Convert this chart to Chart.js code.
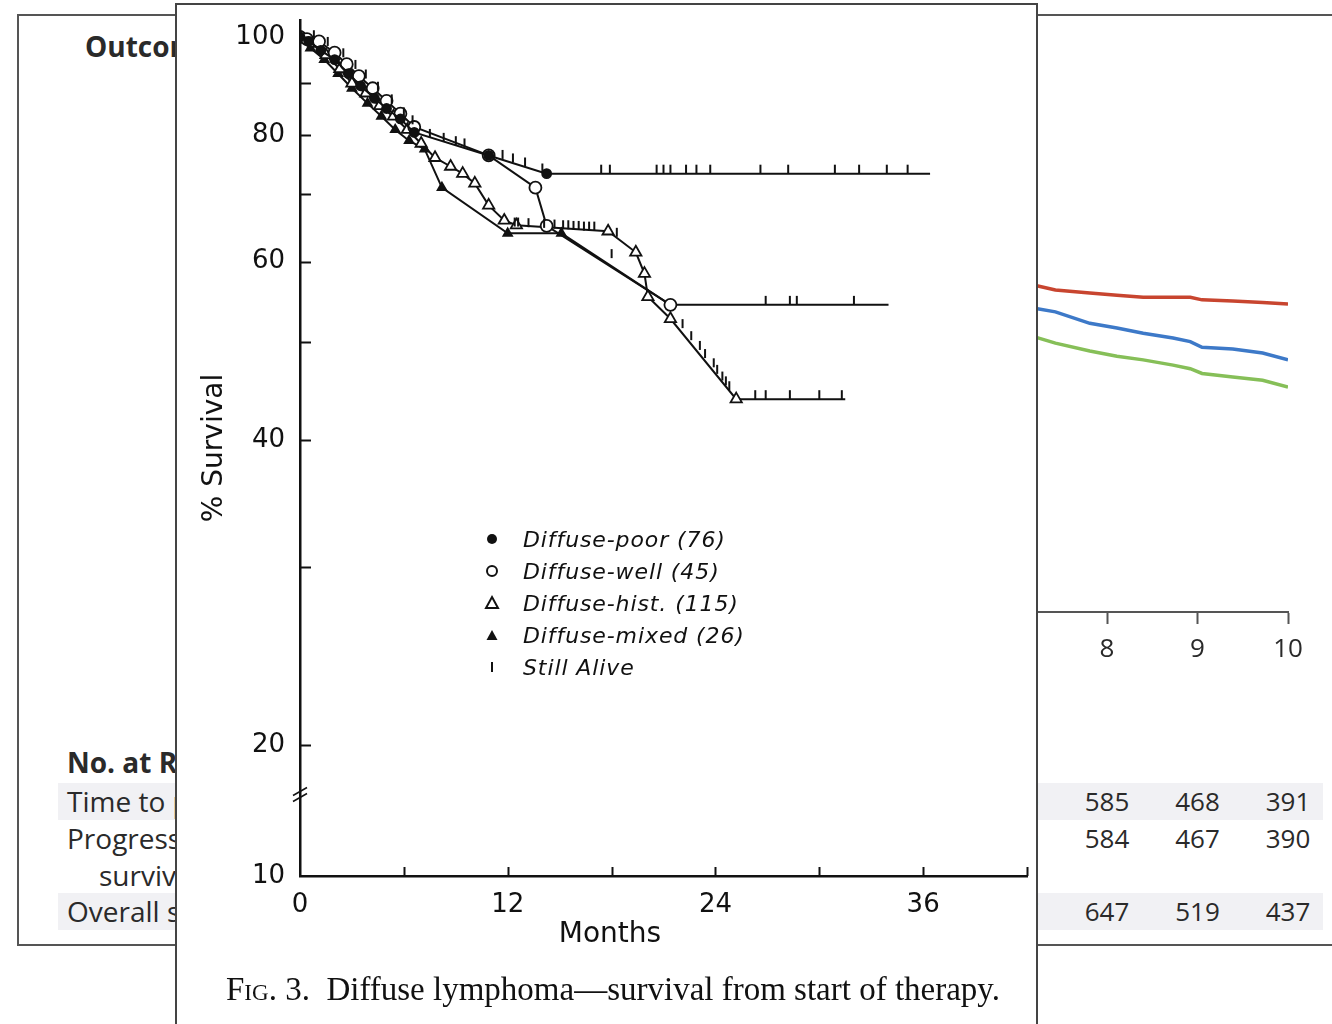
<!DOCTYPE html>
<html><head><meta charset="utf-8">
<script src="https://cdn.jsdelivr.net/npm/chart.js@4.4.1/dist/chart.umd.min.js"></script>
<style>
html,body{margin:0;padding:0;width:1332px;height:1024px;overflow:hidden;background:#fff;}
#frame{position:absolute;left:17px;top:14px;width:1340px;height:932px;border:2px solid #555;box-sizing:border-box;}
#bg{position:absolute;left:17px;top:15px;}
.bgtxt{position:absolute;font-family:"Open Sans",sans-serif;color:#2a2a2a;font-size:28px;white-space:nowrap;line-height:37px;}
.bold{font-weight:bold;}
.band{position:absolute;left:58px;width:1265px;height:37px;background:#f1f1f4;}
.num{position:absolute;font-family:"Open Sans",sans-serif;color:#2a2a2a;font-size:26px;line-height:37px;width:80px;text-align:center;}
#panel{position:absolute;left:175px;top:3px;width:863px;height:1040px;background:#fff;border:2px solid #444;box-sizing:border-box;}
#fg{position:absolute;left:176px;top:3px;}
#legend{position:absolute;left:482px;top:524px;font-family:"DejaVu Sans",sans-serif;font-style:italic;font-size:22px;letter-spacing:0.9px;color:#111;}
#legend .row{height:32px;line-height:32px;white-space:nowrap;}
#legend svg{display:inline-block;width:20px;height:20px;vertical-align:middle;margin-right:21px;margin-top:-4px;}
#months{position:absolute;left:510px;width:200px;top:914px;text-align:center;font-family:"DejaVu Sans",sans-serif;font-size:28px;line-height:38px;color:#111;}
#caption{position:absolute;left:226px;top:970px;font-family:"Liberation Serif",serif;font-size:33px;line-height:38px;color:#111;white-space:nowrap;}
</style></head>
<body>
<div id="frame"></div>
<div class="band" style="top:783px"></div>
<div class="band" style="top:893px"></div>
<div class="bgtxt bold" style="left:85px;top:28px">Outcomes</div>
<div class="bgtxt bold" style="left:67px;top:744px">No. at Risk</div>
<div class="bgtxt" style="left:67px;top:783px">Time to progression</div>
<div class="bgtxt" style="left:67px;top:820px">Progression-free</div>
<div class="bgtxt" style="left:99px;top:857px">survival</div>
<div class="bgtxt" style="left:67px;top:893px">Overall survival</div>
<div id="risk"></div>
<canvas id="bg" width="1315" height="930"></canvas>

<div id="panel"></div>
<canvas id="fg" width="861" height="1021"></canvas>
<div id="legend">
  <div class="row"><svg viewBox="0 0 20 20"><circle cx="10" cy="10" r="5" fill="#111"/></svg>Diffuse-poor (76)</div>
  <div class="row"><svg viewBox="0 0 20 20"><circle cx="10" cy="10" r="5" fill="#fff" stroke="#111" stroke-width="2"/></svg>Diffuse-well (45)</div>
  <div class="row"><svg viewBox="0 0 20 20"><polygon points="10,4 16,15 4,15" fill="#fff" stroke="#111" stroke-width="2"/></svg>Diffuse-hist. (115)</div>
  <div class="row"><svg viewBox="0 0 20 20"><polygon points="10,5 15.5,15 4.5,15" fill="#111"/></svg>Diffuse-mixed (26)</div>
  <div class="row"><svg viewBox="0 0 20 20"><rect x="9" y="5" width="2" height="10" fill="#111"/></svg>Still Alive</div>
</div>
<div id="months">Months</div>
<div id="caption"><span style="font-variant:small-caps">Fig</span>. 3.&nbsp; Diffuse lymphoma—survival from start of therapy.</div>

<script>
// ---------- Foreground figure data (months, % survival) ----------
const poorX  = [0, 0.5, 1.2, 2.0, 2.8, 3.5, 4.3, 5.0, 5.8, 6.6, 10.9, 14.25, 36.4];
const poorY  = [100, 99, 97, 95, 92, 89.5, 87, 85, 83, 80.5, 76.4, 73.3, 73.3];
const wellX  = [0, 0.4, 1.1, 2.0, 2.7, 3.4, 4.2, 5.0, 5.8, 6.6, 10.9, 13.6, 14.25, 21.4, 34.0];
const wellY  = [100, 99.5, 99, 96.5, 94, 91.5, 89, 86.5, 84, 81.5, 76.4, 71.0, 65.1, 54.4, 54.4];
const histX  = [0, 0.8, 1.5, 2.3, 3.0, 3.8, 4.6, 5.4, 6.2, 7.0, 7.8, 8.7, 9.4, 10.1, 10.9, 11.8, 12.5, 17.8, 19.4, 19.9, 20.1, 21.4, 25.2, 31.5];
const histY  = [100, 98.5, 96, 93, 90, 88, 85.5, 83.5, 81, 78.5, 76.0, 74.5, 73.3, 71.7, 68.2, 65.9, 65.2, 64.3, 61.3, 58.4, 55.4, 52.7, 43.9, 43.9];
const mixedX = [0, 0.6, 1.4, 2.2, 3.0, 3.9, 4.7, 5.5, 6.3, 7.2, 8.2, 12.0, 15.1, 21.4];
const mixedY = [100, 97.5, 95, 92, 89, 86, 83.5, 81, 79, 77.5, 71.0, 64.0, 64.0, 54.4];
// "Still alive" censor marks (months, %)
const aliveX = [0.8, 1.6, 2.5, 3.2, 3.8, 4.5, 5.3, 6.0, 6.5, 7.5, 8.3, 9.0, 9.5, 11.7, 12.3, 13.0, 14.0,
                17.4, 17.9, 20.6, 21.0, 21.4, 22.3, 22.9, 23.7, 26.6, 28.2, 30.9, 32.3, 33.9, 35.1,
                12.4, 12.6, 13.2, 14.1, 14.7, 15.2, 15.5, 15.8, 16.1, 16.4, 16.7, 17.0, 18.3, 18.0,
                22.1, 22.6, 23.1, 23.4, 23.9, 24.1, 24.4, 24.6, 24.8,
                26.3, 26.9, 28.3, 30.0, 31.3,
                26.9, 28.3, 28.7, 32.0];
const aliveY = [99.5, 98, 95.5, 93, 91, 88.5, 86, 83.5, 82, 79.5, 78.8, 78.2, 77.8, 75.8, 75.2, 74.5, 73.5,
                73.3, 73.3, 73.3, 73.3, 73.3, 73.3, 73.3, 73.3, 73.3, 73.3, 73.3, 73.3, 73.3, 73.3,
                65.0, 65.0, 64.9, 64.8, 64.7, 64.6, 64.6, 64.5, 64.5, 64.4, 64.4, 64.4, 63.5, 60.5,
                51.6, 50.2, 49.1, 48.2, 47.2, 46.5, 45.8, 45.3, 44.8,
                43.9, 43.9, 43.9, 43.9, 43.9,
                54.4, 54.4, 54.4, 54.4];
const yMin = 14.85, yMax = 103.94;          // axis ends (bottom is labelled 10, axis broken)
const yLabelValues = [yMin, 20, 40, 60, 80, 100];
const yTickValues  = [20, 30, 40, 50, 60, 70, 80, 90, 100];
const xTickValues  = [6, 12, 18, 24, 30, 36, 42];

// ---------- Background chart data (years, proportion) ----------
const bgYears  = [7.2, 7.43, 7.81, 8.11, 8.40, 8.73, 8.92, 9.05, 9.39, 9.72, 10.0];
const ttpVals  = [0.626, 0.617, 0.611, 0.607, 0.603, 0.603, 0.603, 0.598, 0.596, 0.593, 0.590];
const pfsVals  = [0.582, 0.575, 0.553, 0.544, 0.534, 0.525, 0.518, 0.507, 0.504, 0.496, 0.483];
const osVals   = [0.527, 0.515, 0.500, 0.490, 0.483, 0.473, 0.466, 0.457, 0.450, 0.444, 0.431];
const riskYears = [7, 8, 9, 10];
const riskTTP   = [710, 585, 468, 391];
const riskPFS   = [709, 584, 467, 390];
const riskOS    = [797, 647, 519, 437];

const pts = (xs, ys) => xs.map((x, i) => ({x, y: ys[i]}));

// ---------- Background chart ----------
const bgChart = new Chart(document.getElementById('bg'), {
  type: 'line',
  data: { datasets: [
    {data: pts(bgYears, ttpVals), borderColor: '#c8452f', borderWidth: 3.5, pointRadius: 0, tension: 0},
    {data: pts(bgYears, pfsVals), borderColor: '#3d79c8', borderWidth: 3.5, pointRadius: 0, tension: 0},
    {data: pts(bgYears, osVals),  borderColor: '#86bf58', borderWidth: 3.5, pointRadius: 0, tension: 0}
  ]},
  options: {
    responsive: false, animation: false, events: [],
    layout: {padding: {left: 366, right: 44, top: 75, bottom: 273}},
    plugins: {legend: {display: false}, tooltip: {enabled: false}},
    scales: {
      x: {type: 'linear', min: 0, max: 10,
          ticks: {stepSize: 1, color: '#2a2a2a', font: {family: 'Open Sans', size: 26}, padding: 10, maxRotation: 0},
          grid: {display: true, drawOnChartArea: false, drawTicks: true, tickLength: 12, tickColor: '#555', tickWidth: 2},
          border: {display: true, color: '#555', width: 2},
          afterFit: s => { s.height = 60; }},
      y: {display: false, min: 0, max: 1}
    }
  }
});
// numbers at risk placed on the background x scale
(function(){
  const xs = bgChart.scales.x, holder = document.getElementById('risk');
  const rows = [[riskTTP, 783], [riskPFS, 820], [riskOS, 893]];
  rows.forEach(([vals, top]) => vals.forEach((v, i) => {
    const d = document.createElement('div');
    d.className = 'num';
    d.style.left = (17 + xs.getPixelForValue(riskYears[i]) - 40) + 'px';
    d.style.top = top + 'px';
    d.textContent = v;
    holder.appendChild(d);
  }));
})();

// ---------- Foreground figure ----------
const tickImg = document.createElement('canvas');
tickImg.width = 4; tickImg.height = 20;
(function(){ const c = tickImg.getContext('2d'); c.fillStyle = '#111'; c.fillRect(1, 1, 2, 9); })();

const inward = {
  id: 'inward',
  afterDraw(chart) {
    const {ctx, chartArea: a, scales: {x, y}} = chart;
    ctx.save();
    ctx.strokeStyle = '#111'; ctx.lineWidth = 2;
    yTickValues.forEach(v => {
      const py = Math.round(y.getPixelForValue(v)) + 0.5;
      ctx.beginPath(); ctx.moveTo(a.left, py); ctx.lineTo(a.left + 11, py); ctx.stroke();
    });
    xTickValues.forEach(v => {
      const px = Math.round(x.getPixelForValue(v)) + 0.5;
      ctx.beginPath(); ctx.moveTo(px, a.bottom); ctx.lineTo(px, a.bottom - 9); ctx.stroke();
    });
    const yb = (y.getPixelForValue(20) + a.bottom) / 2 - 16;
    ctx.lineWidth = 1.6;
    [-3, 3].forEach(d => {
      ctx.beginPath(); ctx.moveTo(a.left - 7, yb + d + 4); ctx.lineTo(a.left + 7, yb + d - 4); ctx.stroke();
    });
    ctx.restore();
  }
};

const lastHidden = r => ctx => ctx.dataIndex === ctx.dataset.data.length - 1 ? 0 : r;
const lineDs = (data, style, fill, r) => ({
  type: 'line', data, borderColor: '#111', borderWidth: 2, tension: 0,
  pointStyle: style, pointRadius: lastHidden(r), pointBackgroundColor: fill,
  pointBorderColor: '#111', pointBorderWidth: 1.8
});

new Chart(document.getElementById('fg'), {
  type: 'line',
  data: { datasets: [
    {type: 'scatter', data: pts(aliveX, aliveY), pointStyle: tickImg, pointRadius: 5, showLine: false},
    lineDs(pts(poorX, poorY), 'circle', '#111', 4.5),
    lineDs(pts(wellX, wellY), 'circle', '#fff', 6),
    lineDs(pts(histX, histY), 'triangle', '#fff', 6.5),
    lineDs(pts(mixedX, mixedY), 'triangle', '#111', 5)
  ]},
  plugins: [inward],
  options: {
    responsive: false, animation: false, events: [],
    layout: {padding: {left: 0, right: 10, top: 17, bottom: 68}},
    plugins: {legend: {display: false}, tooltip: {enabled: false}},
    scales: {
      x: {type: 'linear', min: 0, max: 42,
          ticks: {stepSize: 6, color: '#111', font: {family: 'DejaVu Sans', size: 26}, padding: 14, maxRotation: 0,
                  callback: v => (v % 12 === 0 && v <= 36) ? String(v) : ''},
          grid: {display: false, drawTicks: false},
          border: {display: true, color: '#111', width: 2.5},
          afterFit: s => { s.height = 80; s.paddingLeft = 0; s.paddingRight = 0; }},
      y: {type: 'logarithmic', min: yMin, max: yMax, bounds: 'data',
          afterBuildTicks: s => { s.ticks = yLabelValues.map(v => ({value: v})); },
          ticks: {color: '#111', font: {family: 'DejaVu Sans', size: 26}, padding: 15,
                  callback: v => v < 15 ? '10' : String(Math.round(v))},
          grid: {display: false, drawTicks: false},
          border: {display: true, color: '#111', width: 2.5},
          title: {display: true, text: '% Survival', color: '#111', font: {family: 'DejaVu Sans', size: 28}, padding: {top: 22, bottom: 0}},
          afterFit: s => { s.width = 124; s.paddingTop = 0; s.paddingBottom = 0; }}
    }
  }
});
</script>
</body></html>
